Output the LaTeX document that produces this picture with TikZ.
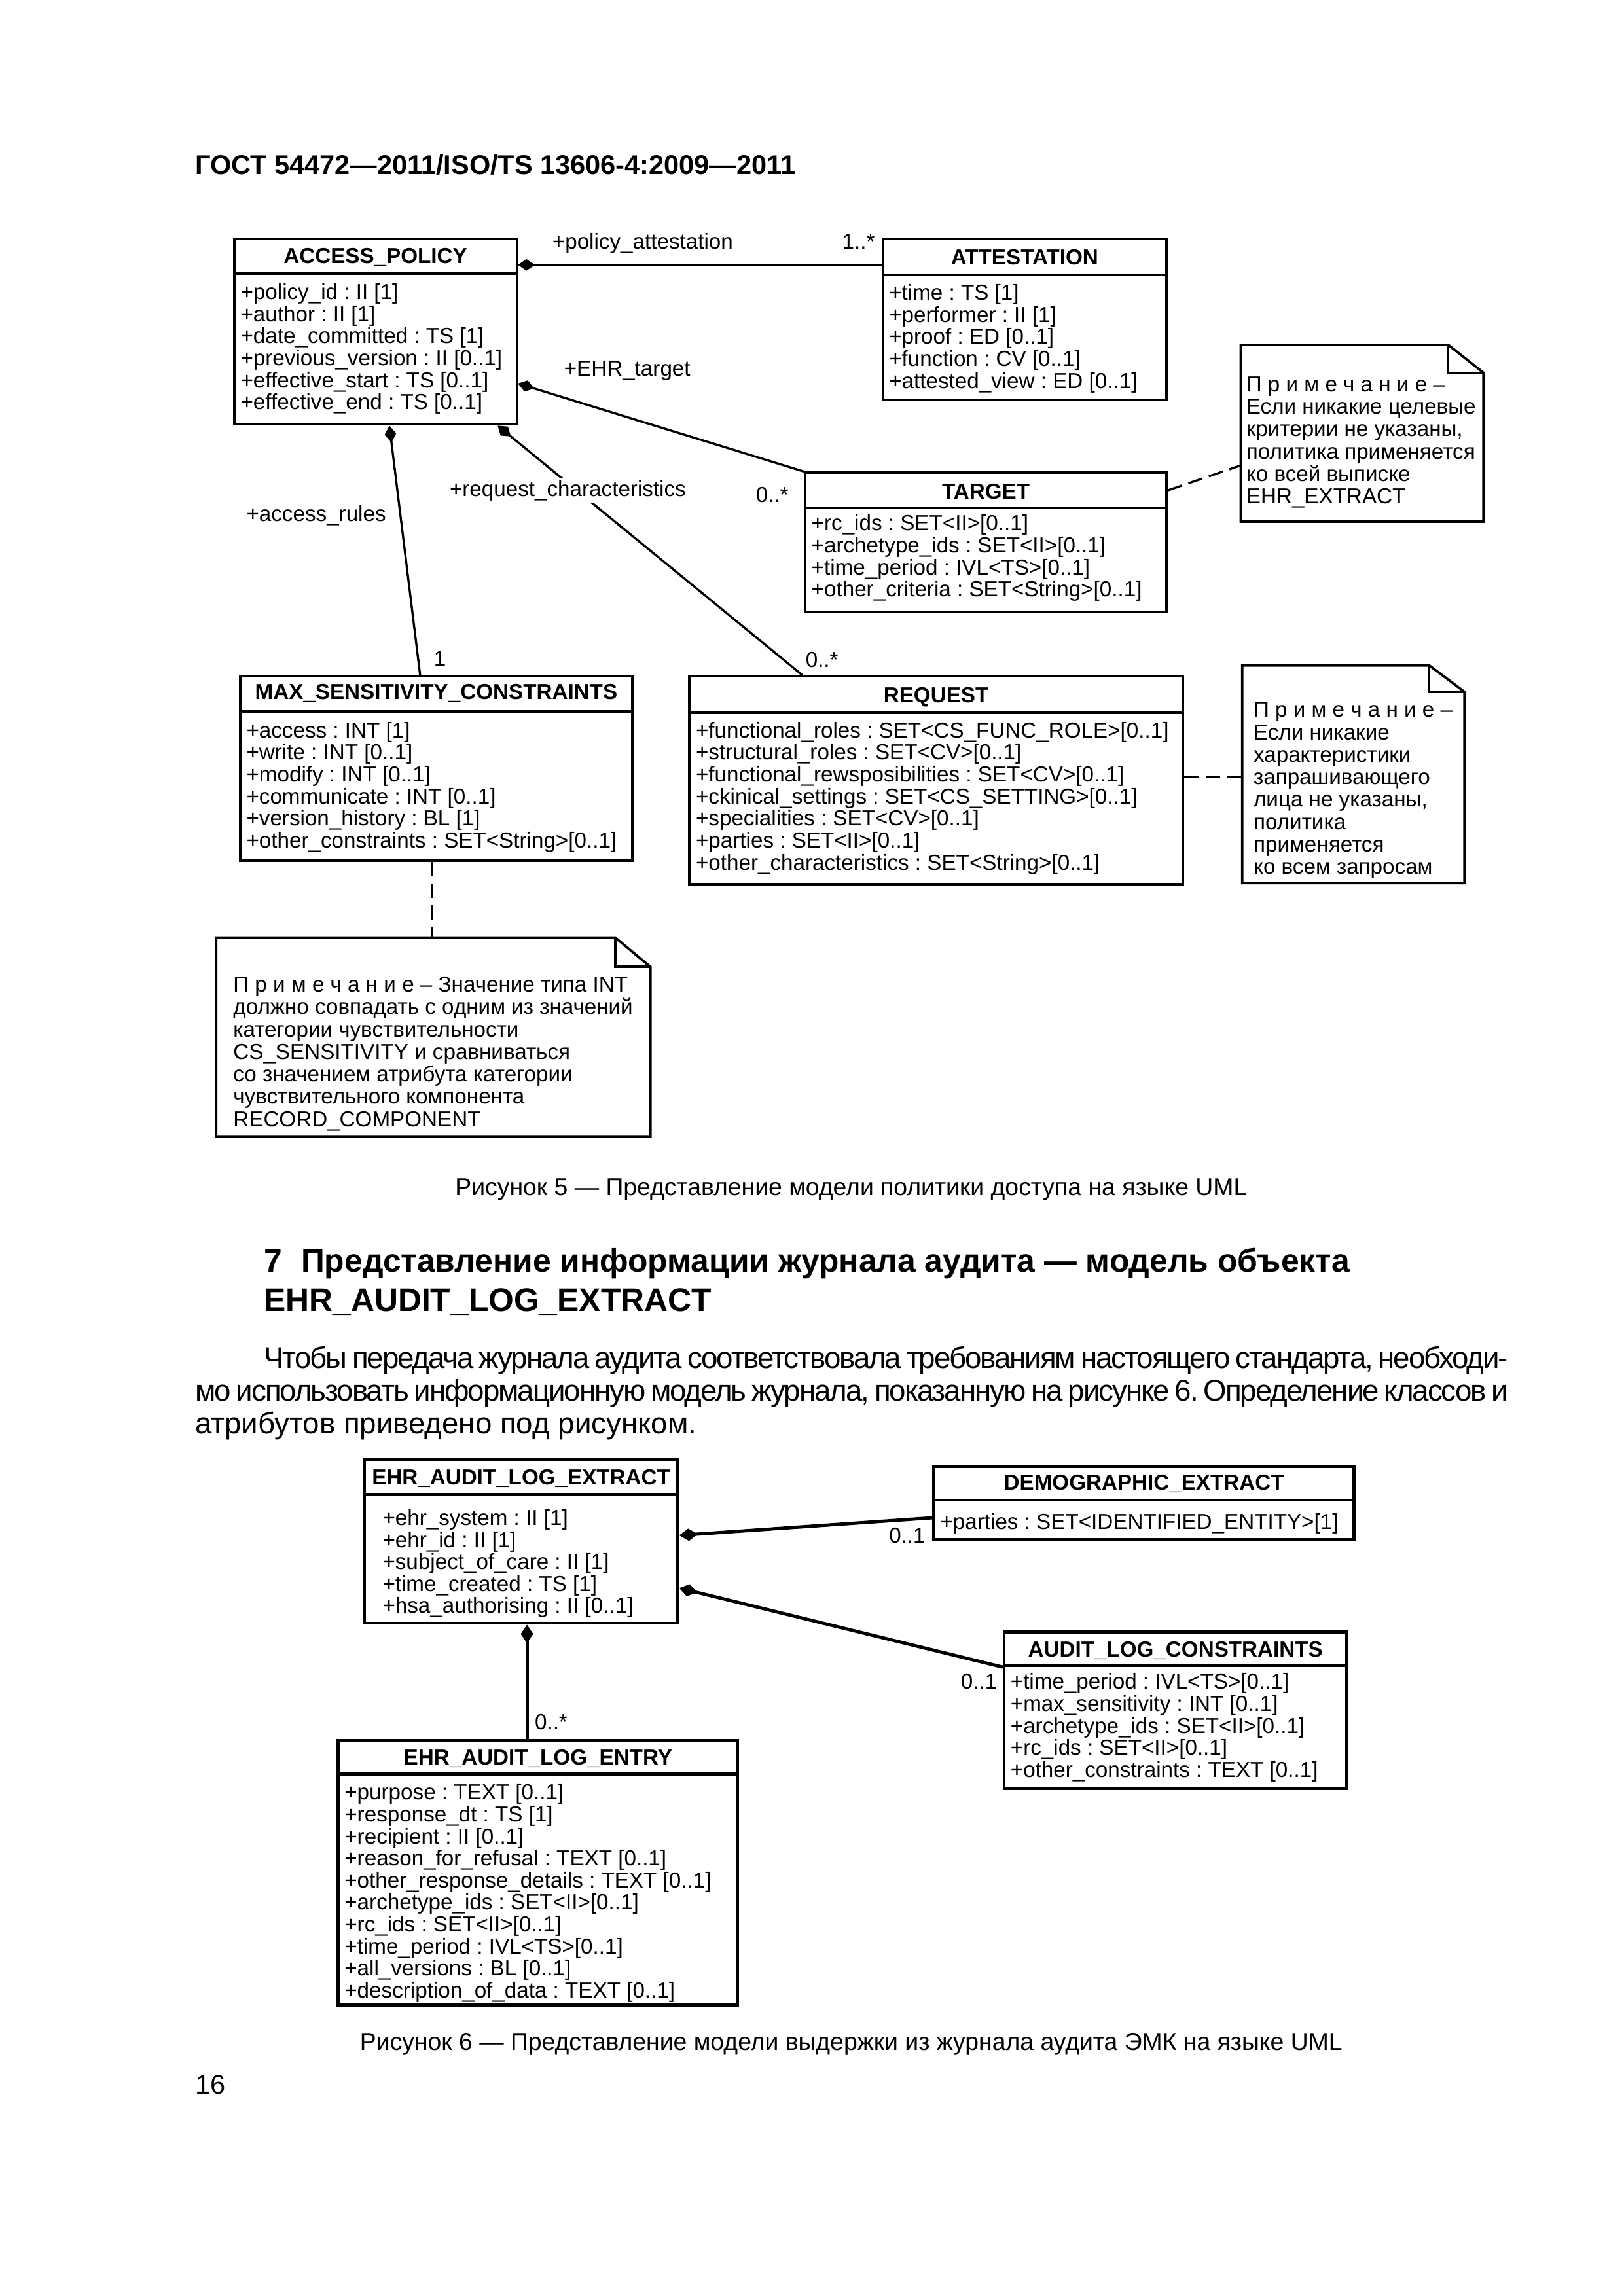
\documentclass[tikz,border=0pt]{standalone}
\usepackage{fontspec}
\setmainfont{Liberation Sans}
\newfontfamily\tightfont[LetterSpace=-4.5]{Liberation Sans}
\usetikzlibrary{arrows.meta,fit,calc}

\tikzset{
  cls/.style={draw, line width=0.9pt, inner sep=0pt},
  clsB/.style={draw, line width=1.1pt, inner sep=0pt},
  ctitle/.style={font=\fontsize{8}{8.1}\selectfont\bfseries, anchor=base, inner sep=0pt},
  cattr/.style={font=\fontsize{8}{8.1}\selectfont, align=left, anchor=north west, inner sep=0pt},
  role/.style={font=\fontsize{8}{8.1}\selectfont, anchor=base west, inner sep=0pt},
  notebox/.style={inner sep=0pt},
  notetext/.style={font=\fontsize{8}{8.25}\selectfont, align=left, anchor=north west, inner sep=0pt},
  comp/.style={{Diamond[length=2.2mm,width=1.5mm]}-, line width=0.8pt},
  compB/.style={{Diamond[length=2.4mm,width=1.6mm]}-, line width=1.2pt},
  noteline/.style={dash pattern=on 1.9mm off 0.9mm, line width=0.8pt},
  pagetext/.style={inner sep=0pt, anchor=base west},
}

\begin{document}
\frenchspacing
\begin{tikzpicture}[x=0.18936mm, y=-0.18936mm]
\useasboundingbox (0,0) rectangle (1109,1568.7);

% Page header
\node[pagetext, font=\fontsize{10}{12}\selectfont\bfseries] (hdr) at (133,119.3)
  {ГОСТ 54472—2011/ISO/TS 13606-4:2009—2011};

% Figure 5: classes
\node[cls, fit={(160,163) (353,290)}] (ap) {};
\draw[line width=0.9pt] (ap.west |- 0,187) -- (ap.east |- 0,187);
\node[ctitle] (ap-t) at (ap.north |- 0,180) {ACCESS\_POLICY};
\node[cattr] (ap-a) at (164,193.5)
  {+policy\_id : II [1]\\+author : II [1]\\+date\_committed : TS [1]\\
   +previous\_version : II [0..1]\\+effective\_start : TS [0..1]\\+effective\_end : TS [0..1]};

\node[cls, fit={(603,163) (797,273)}] (att) {};
\draw[line width=0.9pt] (att.west |- 0,188) -- (att.east |- 0,188);
\node[ctitle] (att-t) at (att.north |- 0,181) {ATTESTATION};
\node[cattr] (att-a) at (607,194)
  {+time : TS [1]\\+performer : II [1]\\+proof : ED [0..1]\\+function : CV [0..1]\\
   +attested\_view : ED [0..1]};

\node[cls, fit={(550,323) (797,418)}] (tgt) {};
\draw[line width=0.9pt] (tgt.west |- 0,347) -- (tgt.east |- 0,347);
\node[ctitle] (tgt-t) at (tgt.north |- 0,341) {TARGET};
\node[cattr] (tgt-a) at (554,351.5)
  {+rc\_ids : SET<II>[0..1]\\+archetype\_ids : SET<II>[0..1]\\+time\_period : IVL<TS>[0..1]\\
   +other\_criteria : SET<String>[0..1]};

\node[cls, fit={(164,462) (432,588)}] (max) {};
\draw[line width=0.9pt] (max.west |- 0,486) -- (max.east |- 0,486);
\node[ctitle] (max-t) at (max.north |- 0,478) {MAX\_SENSITIVITY\_CONSTRAINTS};
\node[cattr] (max-a) at (168,493)
  {+access : INT [1]\\+write : INT [0..1]\\+modify : INT [0..1]\\+communicate : INT [0..1]\\
   +version\_history : BL [1]\\+other\_constraints : SET<String>[0..1]};

\node[cls, fit={(471,462) (808,604)}] (req) {};
\draw[line width=0.9pt] (req.west |- 0,487) -- (req.east |- 0,487);
\node[ctitle] (req-t) at (req.north |- 0,480) {REQUEST};
\node[cattr] (req-a) at (475,493)
  {+functional\_roles : SET<CS\_FUNC\_ROLE>[0..1]\\+structural\_roles : SET<CV>[0..1]\\
   +functional\_rewsposibilities : SET<CV>[0..1]\\+ckinical\_settings : SET<CS\_SETTING>[0..1]\\
   +specialities : SET<CV>[0..1]\\+parties : SET<II>[0..1]\\
   +other\_characteristics : SET<String>[0..1]};

% Figure 5: notes
\node[notebox, fit={(848,236) (1013,356)}] (n1) {};
\draw[line width=0.9pt] (n1.north west) -- ($(n1.north east)+(-24,0)$) -- ($(n1.north east)+(0,19)$)
  -- (n1.south east) -- (n1.south west) -- cycle;
\draw[line width=0.9pt] ($(n1.north east)+(-24,0)$) |- ($(n1.north east)+(0,19)$);
\node[notetext] (n1-t) at (851,257)
  {П р и м е ч а н и е –\\Если никакие целевые\\критерии не указаны,\\политика применяется\\
   ко всей выписке\\EHR\_EXTRACT};

\node[notebox, fit={(849,455) (1000,603)}] (n2) {};
\draw[line width=0.9pt] (n2.north west) -- ($(n2.north east)+(-24,0)$) -- ($(n2.north east)+(0,18)$)
  -- (n2.south east) -- (n2.south west) -- cycle;
\draw[line width=0.9pt] ($(n2.north east)+(-24,0)$) |- ($(n2.north east)+(0,18)$);
\node[notetext] (n2-t) at (856,479.5)
  {П р и м е ч а н и е –\\Если никакие\\характеристики\\запрашивающего\\лица не указаны,\\
   политика\\применяется\\ко всем запросам};

\node[notebox, fit={(148,641) (444,776)}] (n3) {};
\draw[line width=0.9pt] (n3.north west) -- ($(n3.north east)+(-24,0)$) -- ($(n3.north east)+(0,20)$)
  -- (n3.south east) -- (n3.south west) -- cycle;
\draw[line width=0.9pt] ($(n3.north east)+(-24,0)$) |- ($(n3.north east)+(0,20)$);
\node[notetext] (n3-t) at (159,667)
  {П р и м е ч а н и е – Значение типа INT\\должно совпадать с одним из значений\\
   категории чувствительности\\CS\_SENSITIVITY и сравниваться\\
   со значением атрибута категории\\чувствительного компонента\\RECORD\_COMPONENT};

% Figure 5: associations
\draw[comp] (ap.east |- 0,181) -- (att.west |- 0,181);
\draw[comp] (ap.east |- 0,262) -- (tgt.north west);
\draw[comp] (ap.south -| 266,0) -- (max.north -| 287,0);
\draw[comp] (ap.south -| 340,0) -- (req.north -| 548,0);
\draw[noteline] (tgt.east |- 0,335) -- (n1.west |- 0,318);
\draw[noteline] (req.east |- 0,531) -- (n2.west |- 0,531);
\draw[noteline] (max.south -| 295,0) -- (n3.north -| 295,0);

\node[role] (r1) at (377,170) {+policy\_attestation};
\node[role] (m1) at (575,170) {1..*};
\node[role] (r2) at (385,257) {+EHR\_target};
\node[role] (m2) at (516,343) {0..*};
\node[role] (r3) at (168,356) {+access\_rules};
\node[role] (m3) at (296,455) {1};
\node[role, fill=white, inner sep=1pt] (r4) at (305,339) {+request\_characteristics};
\node[role] (m4) at (550,456) {0..*};

% Caption 5, section heading, paragraph
\node[font=\fontsize{9}{11}\selectfont, anchor=base, inner sep=0pt] (cap5) at (581.5,816.7)
  {Рисунок 5 — Представление модели политики доступа на языке UML};
\node[font=\fontsize{12}{14.5}\selectfont\bfseries, align=left, anchor=north west, inner sep=0pt]
  (sec) at (180,852.5)
  {7\hspace*{7pt}Представление информации журнала аудита — модель объекта\\EHR\_AUDIT\_LOG\_EXTRACT};
\node[font=\fontsize{11}{12.1}\selectfont, align=left, anchor=north west, inner sep=0pt]
  (par) at (133,919.3)
  {\hspace*{8.9mm}\makebox[160.96mm][s]{\tightfont Чтобы передача журнала аудита соответствовала требованиям настоящего стандарта, необходи-}\\
   \makebox[169.86mm][s]{\tightfont мо использовать информационную модель журнала, показанную на рисунке 6. Определение классов и}\\
   атрибутов приведено под рисунком.};

% Figure 6: classes
\node[clsB, fit={(249,997) (463,1109)}] (ehr) {};
\draw[line width=1.1pt] (ehr.west |- 0,1021) -- (ehr.east |- 0,1021);
\node[ctitle] (ehr-t) at (ehr.north |- 0,1014.5) {EHR\_AUDIT\_LOG\_EXTRACT};
\node[cattr] (ehr-a) at (261,1031)
  {+ehr\_system : II [1]\\+ehr\_id : II [1]\\+subject\_of\_care : II [1]\\+time\_created : TS [1]\\
   +hsa\_authorising : II [0..1]};

\node[clsB, fit={(638,1002) (925,1052)}] (dem) {};
\draw[line width=1.1pt] (dem.west |- 0,1025) -- (dem.east |- 0,1025);
\node[ctitle] (dem-t) at (dem.north |- 0,1018) {DEMOGRAPHIC\_EXTRACT};
\node[cattr] (dem-a) at (642,1033.5) {+parties : SET<IDENTIFIED\_ENTITY>[1]};

\node[clsB, fit={(686,1115) (920,1222)}] (alc) {};
\draw[line width=1.1pt] (alc.west |- 0,1138) -- (alc.east |- 0,1138);
\node[ctitle] (alc-t) at (alc.north |- 0,1132) {AUDIT\_LOG\_CONSTRAINTS};
\node[cattr] (alc-a) at (690,1143)
  {+time\_period : IVL<TS>[0..1]\\+max\_sensitivity : INT [0..1]\\+archetype\_ids : SET<II>[0..1]\\
   +rc\_ids : SET<II>[0..1]\\+other\_constraints : TEXT [0..1]};

\node[clsB, fit={(231,1189) (504,1370)}] (ent) {};
\draw[line width=1.1pt] (ent.west |- 0,1212) -- (ent.east |- 0,1212);
\node[ctitle] (ent-t) at (ent.north |- 0,1206) {EHR\_AUDIT\_LOG\_ENTRY};
\node[cattr] (ent-a) at (235,1218.5)
  {+purpose : TEXT [0..1]\\+response\_dt : TS [1]\\+recipient : II [0..1]\\
   +reason\_for\_refusal : TEXT [0..1]\\+other\_response\_details : TEXT [0..1]\\
   +archetype\_ids : SET<II>[0..1]\\+rc\_ids : SET<II>[0..1]\\+time\_period : IVL<TS>[0..1]\\
   +all\_versions : BL [0..1]\\+description\_of\_data : TEXT [0..1]};

% Figure 6: associations
\draw[compB] (ehr.east |- 0,1049) -- (dem.west |- 0,1037);
\draw[compB] (ehr.east |- 0,1085) -- (alc.west |- 0,1139);
\draw[compB] (ehr.south -| 360,0) -- (ent.north -| 360,0);
\node[role] (m5) at (607,1054) {0..1};
\node[role] (m6) at (656,1154) {0..1};
\node[role] (m7) at (365,1181.5) {0..*};

% Caption 6 and page number
\node[font=\fontsize{9}{11}\selectfont, anchor=base, inner sep=0pt] (cap6) at (581.5,1400.7)
  {Рисунок 6 — Представление модели выдержки из журнала аудита ЭМК на языке UML};
\node[pagetext, font=\fontsize{10}{12}\selectfont] (pg) at (133,1430.7) {16};
\end{tikzpicture}
\end{document}
